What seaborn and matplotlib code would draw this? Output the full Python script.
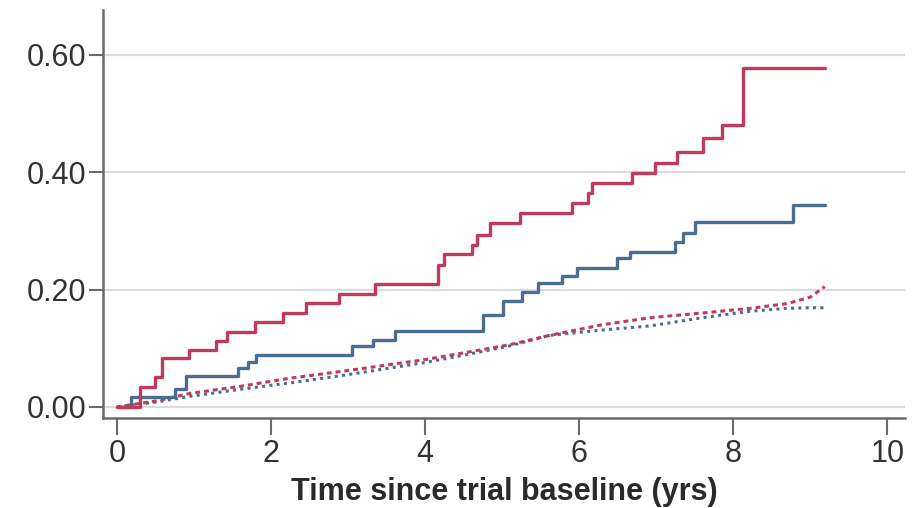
import seaborn as sns
from matplotlib import pyplot as plt
import pandas as pd

# observed cumulative incidence (step curves)
red_time = [0, 0.30, 0.49, 0.58, 0.94, 1.29, 1.43, 1.79, 2.16, 2.46, 2.88, 3.35, 4.17, 4.24,
            4.61, 4.67, 4.84, 5.23, 5.91, 6.12, 6.17, 6.69, 6.99, 7.27, 7.61, 7.85, 8.13, 9.19]
red_risk = [0, 0.034, 0.051, 0.083, 0.097, 0.113, 0.127, 0.144, 0.160, 0.177, 0.192, 0.209, 0.242, 0.261,
            0.276, 0.293, 0.313, 0.330, 0.347, 0.364, 0.381, 0.398, 0.415, 0.435, 0.458, 0.480, 0.577, 0.577]

blue_time = [0, 0.19, 0.75, 0.90, 1.57, 1.70, 1.81, 3.05, 3.33, 3.61, 4.75, 5.01, 5.26, 5.47,
             5.78, 5.97, 6.49, 6.66, 7.25, 7.35, 7.51, 8.78, 9.19]
blue_risk = [0, 0.017, 0.030, 0.053, 0.066, 0.077, 0.088, 0.103, 0.114, 0.130, 0.157, 0.180, 0.196, 0.211,
             0.223, 0.237, 0.254, 0.264, 0.281, 0.296, 0.315, 0.344, 0.344]

# expected (dotted) curves
exp_time = [0, 0.5, 0.95, 1.6, 2.25, 3.0, 3.97, 4.5, 5.1, 5.62, 6.3, 6.92, 7.6, 8.22, 8.7, 9.0, 9.19]
red_exp = [0, 0.010, 0.023, 0.035, 0.049, 0.062, 0.080, 0.092, 0.106, 0.122, 0.140, 0.152, 0.160,
           0.168, 0.176, 0.187, 0.205]
blue_exp = [0, 0.008, 0.018, 0.030, 0.041, 0.055, 0.075, 0.088, 0.104, 0.122, 0.131, 0.138, 0.152,
            0.163, 0.168, 0.169, 0.169]

x_ticks = [0, 2, 4, 6, 8, 10]
y_ticks = [0.0, 0.2, 0.4, 0.6]

RED = '#C13A5C'
BLUE = '#4B6D92'
GREY = '#6a6a6a'

sns.set_theme(style='white')
plt.rcParams['font.family'] = ['Liberation Sans', 'DejaVu Sans']

fig = plt.figure(figsize=(9.13, 5.08), dpi=100)
ax = fig.add_axes([0.1128, 0.177, 0.8784, 0.803])

for y in y_ticks:
    ax.axhline(y, color='#dcdcdc', lw=1.6, zorder=0)

sns.lineplot(x=exp_time, y=blue_exp, ax=ax, color=BLUE, lw=2.2,
             linestyle=(0, (1, 1.4)), estimator=None)
sns.lineplot(x=exp_time, y=red_exp, ax=ax, color=RED, lw=2.2,
             linestyle=(0, (1.6, 1.3)), estimator=None)
sns.lineplot(x=blue_time, y=blue_risk, ax=ax, color=BLUE, lw=2.4,
             drawstyle='steps-post', estimator=None)
sns.lineplot(x=red_time, y=red_risk, ax=ax, color=RED, lw=2.4,
             drawstyle='steps-post', estimator=None)

ax.set_xlim(-0.18, 10.23)
ax.set_ylim(-0.019, 0.676)
ax.set_xticks(x_ticks)
ax.set_yticks(y_ticks)
ax.set_yticklabels([f'{v:.2f}' for v in y_ticks])
ax.set_xlabel('Time since trial baseline (yrs)', fontsize=22, fontweight='bold',
              color='#2a2a2a', labelpad=6)
ax.set_ylabel('')

sns.despine(ax=ax)
for s in ['left', 'bottom']:
    ax.spines[s].set_color(GREY)
    ax.spines[s].set_linewidth(1.8)
ax.tick_params(axis='both', colors=GREY, width=1.5, labelcolor='#333333', labelsize=22)
ax.tick_params(axis='y', length=10, pad=2, direction='out', left=True)
ax.tick_params(axis='x', length=12, pad=3, direction='out', bottom=True)

fig.savefig('out.png', dpi=100)
